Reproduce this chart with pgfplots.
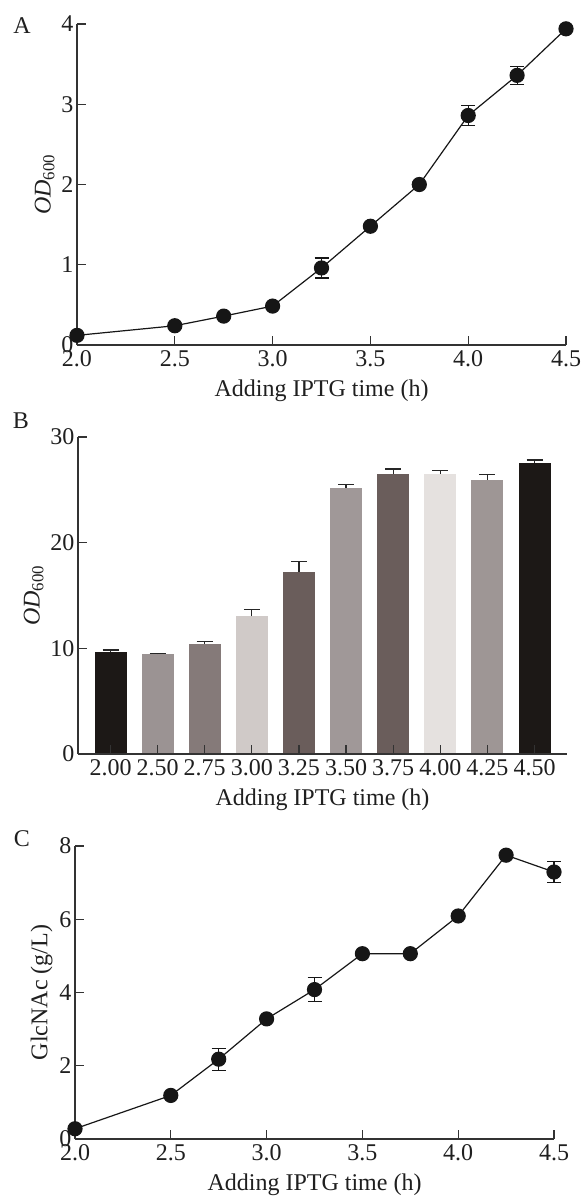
\documentclass[border=0pt]{standalone}
\usepackage{fontspec}
\setmainfont{Liberation Serif}
\usepackage{pgfplots}
\pgfplotsset{compat=1.18}
\definecolor{axc}{HTML}{333333}
\definecolor{dot}{HTML}{161616}
\definecolor{cA}{HTML}{1C1816}
\definecolor{cB}{HTML}{9B9393}
\definecolor{cC}{HTML}{857A79}
\definecolor{cD}{HTML}{D0CAC8}
\definecolor{cE}{HTML}{6A5D5B}
\definecolor{cF}{HTML}{A09898}
\definecolor{cG}{HTML}{6A5D5B}
\definecolor{cH}{HTML}{E5E1DF}
\definecolor{cI}{HTML}{9E9695}
\definecolor{cJ}{HTML}{1C1816}
\pgfplotsset{
  myaxis/.style={
    scale only axis,
    axis x line*=bottom, axis y line*=left,
    every outer x axis line/.append style={-},
    every outer y axis line/.append style={-},
    axis line style={axc, line width=1.3pt, -},
    tick style={axc, line width=1.3pt},
    tick align=inside,
    major tick length=9pt,
    font=\fontsize{24}{28}\selectfont,
    tick label style={font=\fontsize{24}{28}\selectfont, text=black!88},
    xticklabel style={yshift=-2pt},
    label style={font=\fontsize{24}{28}\selectfont, text=black!88},
    xlabel style={yshift=-6pt},
    /pgf/number format/assume math mode=true,
    clip=false,
  },
  lineplot/.style={
    color=dot, line width=1.2pt, mark=*, mark size=7pt,
    mark options={fill=dot, draw=dot},
    error bars/.cd, y dir=both, y explicit,
    error bar style={line width=1.2pt, dot},
    error mark options={rotate=90, line width=1.2pt, dot, mark size=7pt},
  },
  barplot/.style={
    ybar, bar width=32pt, bar shift=0pt, draw=none, fill=#1,
    error bars/.cd, y dir=plus, y explicit,
    error bar style={line width=1.3pt, black!85},
    error mark options={rotate=90, line width=1.3pt, black!85, mark size=8pt},
  },
}
\begin{document}
\begin{tikzpicture}
\path[use as bounding box] (0pt,0pt) rectangle (581pt,-1199pt);

% Panel A
\begin{axis}[myaxis,
  at={(77pt,-345pt)}, anchor=south west,
  width=489pt, height=321pt,
  xmin=2, xmax=4.5, ymin=0, ymax=4,
  xtick={2,2.5,3,3.5,4,4.5},
  xticklabels={2.0,2.5,3.0,3.5,4.0,4.5},
  ytick={0,1,2,3,4},
  xlabel={Adding IPTG time (h)},
  ylabel={\textit{OD}\textsubscript{600}},
]
\addplot[lineplot] coordinates {
  (2.0,0.12) (2.5,0.24) (2.75,0.36) (3.0,0.485)
  (3.25,0.96) +- (0,0.125)
  (3.5,1.48) (3.75,2.0)
  (4.0,2.86) +- (0,0.12)
  (4.25,3.36) +- (0,0.11)
  (4.5,3.94)
};
\end{axis}

% Panel B
\begin{axis}[myaxis, axis on top,
  at={(78pt,-754pt)}, anchor=south west,
  width=489pt, height=317pt,
  xmin=-0.69, xmax=9.69, ymin=0, ymax=30,
  xtick={0,1,2,3,4,5,6,7,8,9},
  xticklabels={2.00,2.50,2.75,3.00,3.25,3.50,3.75,4.00,4.25,4.50},
  ytick={0,10,20,30},
  xlabel={Adding IPTG time (h)},
  ylabel={\textit{OD}\textsubscript{600}},
]
\addplot[barplot=cA] coordinates {(0,9.65) +- (0,0.18)};
\addplot[barplot=cB] coordinates {(1,9.46) +- (0,0.06)};
\addplot[barplot=cC] coordinates {(2,10.43) +- (0,0.19)};
\addplot[barplot=cD] coordinates {(3,13.04) +- (0,0.63)};
\addplot[barplot=cE] coordinates {(4,17.25) +- (0,0.94)};
\addplot[barplot=cF] coordinates {(5,25.17) +- (0,0.34)};
\addplot[barplot=cG] coordinates {(6,26.48) +- (0,0.48)};
\addplot[barplot=cH] coordinates {(7,26.52) +- (0,0.31)};
\addplot[barplot=cI] coordinates {(8,25.97) +- (0,0.46)};
\addplot[barplot=cJ] coordinates {(9,27.54) +- (0,0.29)};
\end{axis}

% Panel C
\begin{axis}[myaxis,
  at={(75pt,-1139pt)}, anchor=south west,
  width=479pt, height=293pt,
  xmin=2, xmax=4.5, ymin=0, ymax=8,
  xtick={2,2.5,3,3.5,4,4.5},
  xticklabels={2.0,2.5,3.0,3.5,4.0,4.5},
  ytick={0,2,4,6,8},
  xlabel={Adding IPTG time (h)},
  ylabel={GlcNAc (g/L)},
]
\addplot[lineplot] coordinates {
  (2.0,0.28) (2.5,1.19)
  (2.75,2.18) +- (0,0.3)
  (3.0,3.28)
  (3.25,4.08) +- (0,0.33)
  (3.5,5.06) (3.75,5.06) (4.0,6.09) (4.25,7.75)
  (4.5,7.29) +- (0,0.29)
};
\end{axis}

\node[font=\fontsize{24}{28}\selectfont, text=black!88] at (22pt,-26pt) {A};
\node[font=\fontsize{24}{28}\selectfont, text=black!88] at (21pt,-421pt) {B};
\node[font=\fontsize{24}{28}\selectfont, text=black!88] at (22pt,-839pt) {C};
\end{tikzpicture}
\end{document}
